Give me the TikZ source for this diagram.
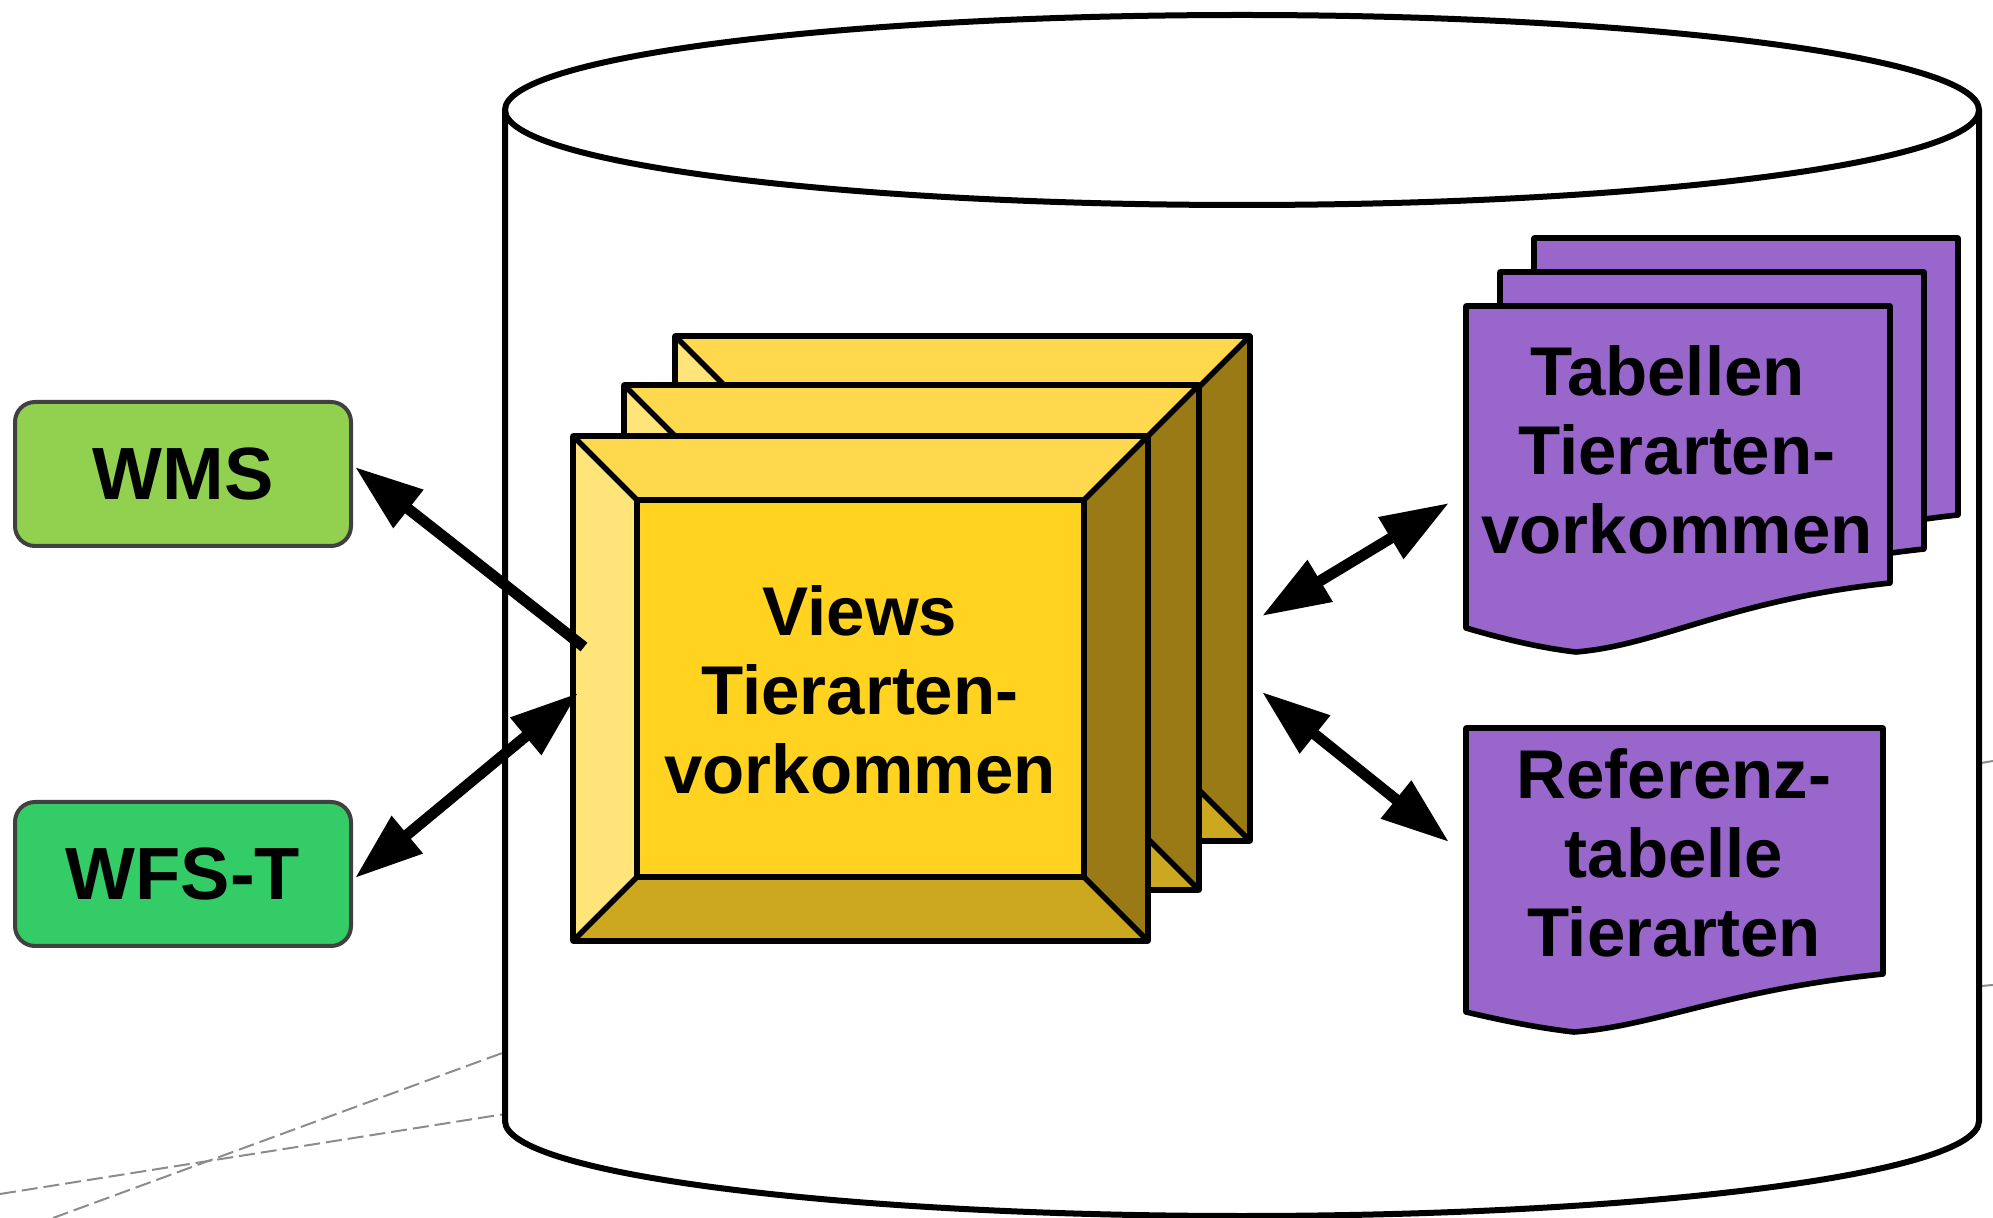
\documentclass[tikz,border=0pt]{standalone}
\usepackage{fontspec}
\setmainfont{Liberation Sans}
\usetikzlibrary{arrows.meta}
\definecolor{ytop}{HTML}{FFD94D}
\definecolor{yleft}{HTML}{FFE47A}
\definecolor{ymid}{HTML}{FFD320}
\definecolor{ybot}{HTML}{CCA820}
\definecolor{yright}{HTML}{997A14}
\definecolor{purp}{HTML}{9966CC}
\definecolor{wmsg}{HTML}{92D050}
\definecolor{wfsg}{HTML}{33CC66}
\definecolor{boxline}{HTML}{404040}
\definecolor{dashgray}{HTML}{8C8C8C}
\begin{document}
\begin{tikzpicture}[x=0.5pt,y=-0.5pt,
  ol/.style={draw=black,line width=2.8pt,line join=round},
  svc/.style={draw=boxline,line width=2pt,rounded corners=10pt,minimum width=168pt,minimum height=72pt,inner sep=0pt,font=\fontsize{37}{40}\selectfont\bfseries},
  txt/.style={align=center,inner sep=0pt,font=\fontsize{34.5}{39.5}\selectfont\bfseries},
  arrone/.style={line width=5.5pt,-{Triangle[length=34pt,width=23pt]}},
  arrtwo/.style={line width=5.5pt,{Triangle[length=34pt,width=23pt]}-{Triangle[length=34pt,width=23pt]}},
  guide/.style={draw=dashgray,line width=1pt,dash pattern=on 8pt off 3pt},
  yellowbox/.pic={
    \fill[ytop] (0,0) -- (575,0) -- (511,64) -- (64,64) -- cycle;
    \fill[yleft] (0,0) -- (64,64) -- (64,441) -- (0,505) -- cycle;
    \fill[yright] (575,0) -- (511,64) -- (511,441) -- (575,505) -- cycle;
    \fill[ybot] (0,505) -- (64,441) -- (511,441) -- (575,505) -- cycle;
    \fill[ymid] (64,64) rectangle (511,441);
    \draw[ol] (0,0) rectangle (575,505) (64,64) rectangle (511,441)
      (0,0) -- (64,64) (575,0) -- (511,64) (0,505) -- (64,441) (575,505) -- (511,441);
  },
  tabdoc/.pic={
    \filldraw[fill=purp,ol] (0,0) -- (424,0) -- (424,277)
      .. controls (264,294) and (194,339) .. (110,346)
      .. controls (74,342) and (34,332) .. (0,322) -- cycle;
  }
]
\useasboundingbox (0,0) rectangle (1993,1218);

% faint guide lines behind the database
\draw[guide] (53,1218) -- (505,1052);
\draw[guide] (0,1194) -- (505,1114);
\draw[guide] (1981,763) -- (1993,761);
\draw[guide] (1981,986) -- (1993,985);

% database cylinder
\filldraw[fill=white,draw=black,line width=3pt] (505,110) -- (505,1121)
  arc[start angle=180,end angle=0,x radius=737,y radius=95] -- (1979,110)
  arc[start angle=0,end angle=-180,x radius=737,y radius=95] -- cycle;
\draw[line width=3pt] (505,110) arc[start angle=180,end angle=0,x radius=737,y radius=95];

% stacked views
\pic at (675,336) {yellowbox};
\pic at (624,385) {yellowbox};
\pic at (573,436) {yellowbox};
\node[txt] (views) at (860,690) {Views\\Tierarten-\\vorkommen};

% stacked tables
\pic at (1534,238) {tabdoc};
\pic at (1500,272) {tabdoc};
\pic at (1466,306) {tabdoc};
\node[txt] (tab) at (1677,450) {\mbox{Tabellen\hspace{0.278em}}\\Tierarten-\\vorkommen};

% reference table
\filldraw[fill=purp,ol] (1466,728) -- (1883,728) -- (1883,974)
  .. controls (1726,990) and (1656,1026) .. (1574,1032)
  .. controls (1538,1028) and (1500,1020) .. (1466,1012) -- cycle;
\node[txt] (ref) at (1674,853) {Referenz-\\tabelle\\Tierarten};

% services
\node[svc,fill=wmsg] (wms) at (183,474) {WMS};
\node[svc,fill=wfsg] (wfs) at (183,874) {WFS-T};

% connector end points
\coordinate (wmsTip) at (355,467);
\coordinate (viewsA) at (584,647);
\coordinate (wfsTip) at (355,878);
\coordinate (viewsB) at (578,693);
\coordinate (viewsC) at (1262,616);
\coordinate (tabTip) at (1449,503);
\coordinate (viewsD) at (1262,692);
\coordinate (refTip) at (1449,842);

\draw[arrone] (viewsA) -- (wmsTip);
\draw[arrtwo] (wfsTip) -- (viewsB);
\draw[arrtwo] (viewsC) -- (tabTip);
\draw[arrtwo] (viewsD) -- (refTip);
\end{tikzpicture}
\end{document}
